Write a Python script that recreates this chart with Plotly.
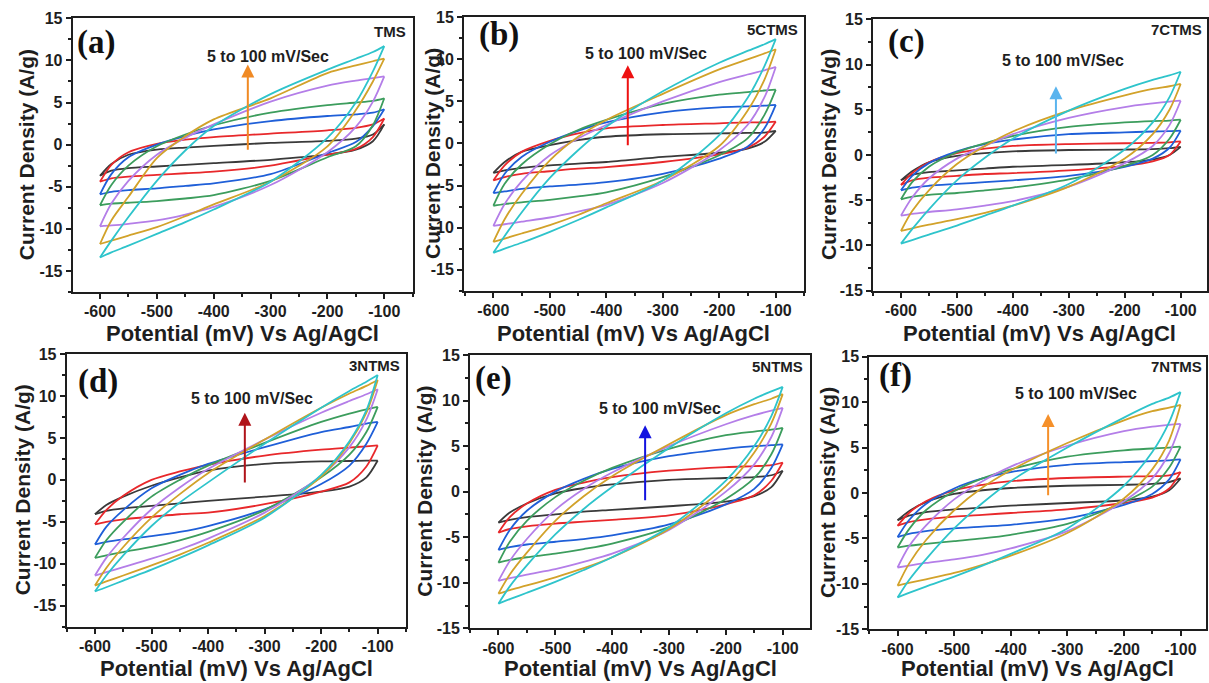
import plotly.graph_objects as go

# ---------------- data ----------------
POTENTIAL_MV = [-600, -580, -550, -500, -450, -400, -300, -200, -150, -120, -100]
SCAN_RATES = ["5 mV/s", "10 mV/s", "20 mV/s", "30 mV/s", "50 mV/s", "70 mV/s", "100 mV/s"]
CURVE_COLORS = ["#3a3a3a", "#e8282b", "#1f5fd8", "#3c9d5d", "#b47ee8", "#d2a22a", "#2ec4cb"]
SAMPLES = ["TMS", "5CTMS", "7CTMS", "3NTMS", "5NTMS", "7NTMS"]
PANEL_TAGS = ["(a)", "(b)", "(c)", "(d)", "(e)", "(f)"]
NOTE_TEXT = "5 to 100 mV/Sec"
ARROW_COLORS = ["#f08a24", "#ee1111", "#5ab4ee", "#b0141a", "#1414e0", "#f5902a"]
ARROW_X = [-340, -362, -323, -335, -342, -334]
ARROW_Y0 = [-0.8, -0.4, 0.0, -0.5, -1.1, -0.4]
ARROW_Y1 = [9.5, 9.3, 7.6, 8.0, 7.3, 8.7]
NOTE_X = [-304, -330, -310, -323, -316, -284]
NOTE_Y = [10.5, 10.7, 10.5, 9.7, 9.1, 10.9]
Y_MIN = [-17.5, -17.5, -15, -17.5, -15, -15]
X_TICKS = [-600, -500, -400, -300, -200, -100]
Y_TICKS = [-15, -10, -5, 0, 5, 10, 15]

# anodic (upper, forward) and cathodic (lower, reverse) branches, A/g, at POTENTIAL_MV
TMS_ANODIC = [
    [-3.7, -2.3, -1.2, -0.6, -0.35, -0.15, 0.2, 0.45, 0.7, 1.2, 2.4],
    [-4.4, -2.4, -0.9, 0.1, 0.6, 0.9, 1.3, 1.7, 2.0, 2.4, 3.1],
    [-5.9, -3.5, -1.5, 0.0, 1.0, 1.8, 2.8, 3.4, 3.6, 3.8, 4.2],
    [-7.2, -4.8, -2.5, -0.2, 1.2, 2.3, 3.8, 4.7, 5.0, 5.2, 5.5],
    [-9.7, -7.0, -4.3, -1.2, 0.8, 2.4, 5.1, 7.0, 7.6, 7.9, 8.1],
    [-11.8, -9.0, -6.2, -1.6, 1.0, 3.0, 5.5, 8.5, 9.4, 9.9, 10.2],
    [-13.4, -11.4, -8.6, -4.3, -0.7, 2.2, 6.0, 8.9, 10.2, 11.0, 11.7],
]
TMS_CATHODIC = [
    [-3.7, -3.1, -2.8, -2.6, -2.4, -2.2, -1.8, -1.2, -0.6, 0.4, 2.4],
    [-4.4, -4.0, -3.8, -3.6, -3.4, -3.2, -2.5, -1.2, -0.5, 0.9, 3.1],
    [-5.9, -5.6, -5.4, -5.2, -4.9, -4.6, -3.5, -1.0, 0.3, 2.2, 4.2],
    [-7.2, -7.0, -6.9, -6.7, -6.4, -6.0, -4.3, -1.5, -0.2, 2.3, 5.5],
    [-9.7, -9.6, -9.4, -9.0, -8.3, -7.4, -4.8, -0.9, 2.1, 5.1, 8.1],
    [-11.8, -11.4, -10.8, -9.8, -8.5, -7.1, -4.4, -0.2, 4.1, 7.5, 10.2],
    [-13.4, -12.8, -12.0, -10.6, -9.2, -7.7, -4.4, 0.8, 5.0, 8.7, 11.7],
]
CTMS5_ANODIC = [
    [-3.5, -2.2, -1.0, -0.2, 0.4, 0.8, 1.1, 1.2, 1.25, 1.3, 1.5],
    [-4.4, -2.6, -1.0, 0.3, 1.2, 1.8, 2.2, 2.4, 2.5, 2.5, 2.6],
    [-5.9, -3.6, -1.6, 0.2, 1.5, 2.5, 3.7, 4.3, 4.4, 4.5, 4.6],
    [-7.4, -4.8, -2.5, -0.1, 1.6, 2.8, 4.7, 5.8, 6.1, 6.3, 6.4],
    [-9.8, -7.2, -4.5, -1.4, 0.6, 2.2, 5.0, 7.3, 8.2, 8.7, 9.1],
    [-11.7, -9.0, -6.0, -2.0, 0.8, 2.8, 5.9, 8.8, 10.0, 10.7, 11.2],
    [-13.0, -11.0, -8.2, -4.1, -0.8, 2.0, 6.2, 9.6, 11.0, 11.8, 12.4],
]
CTMS5_CATHODIC = [
    [-3.5, -3.2, -2.9, -2.6, -2.4, -2.2, -1.6, -1.1, -0.6, 0.2, 1.5],
    [-4.4, -4.0, -3.6, -3.3, -3.0, -2.8, -2.2, -1.3, -0.5, 0.8, 2.6],
    [-5.9, -5.7, -5.4, -5.1, -4.9, -4.6, -3.6, -1.8, -0.4, 1.8, 4.6],
    [-7.4, -7.2, -7.0, -6.7, -6.3, -5.8, -4.0, -1.4, 0.6, 3.4, 6.4],
    [-9.8, -9.6, -9.3, -8.8, -8.1, -7.3, -4.7, -0.8, 2.2, 5.5, 9.1],
    [-11.7, -11.3, -10.7, -9.7, -8.5, -7.1, -4.4, -0.3, 3.9, 7.6, 11.2],
    [-13.0, -12.5, -11.8, -10.5, -9.1, -7.6, -4.4, 1.0, 5.4, 9.2, 12.4],
]
CTMS7_ANODIC = [
    [-2.8, -1.8, -0.8, -0.1, 0.2, 0.4, 0.55, 0.6, 0.65, 0.75, 0.9],
    [-3.3, -2.0, -0.8, 0.2, 0.7, 1.0, 1.2, 1.3, 1.35, 1.4, 1.5],
    [-3.9, -2.3, -0.9, 0.4, 1.2, 1.7, 2.3, 2.5, 2.6, 2.65, 2.7],
    [-4.9, -3.0, -1.3, 0.3, 1.3, 2.1, 3.1, 3.6, 3.75, 3.8, 3.9],
    [-6.7, -4.7, -2.6, -0.4, 1.0, 2.3, 4.1, 5.3, 5.7, 5.9, 6.0],
    [-8.4, -6.2, -3.9, -1.0, 1.0, 2.6, 4.9, 6.6, 7.3, 7.6, 7.85],
    [-9.8, -8.2, -6.0, -2.8, -0.3, 1.8, 4.9, 7.3, 8.3, 8.8, 9.2],
]
CTMS7_CATHODIC = [
    [-2.8, -2.2, -1.9, -1.7, -1.5, -1.3, -1.1, -0.8, -0.5, 0.0, 0.9],
    [-3.3, -2.8, -2.5, -2.3, -2.1, -2.0, -1.7, -1.2, -0.7, 0.0, 1.5],
    [-3.9, -3.6, -3.4, -3.2, -3.0, -2.8, -2.3, -1.3, -0.4, 0.8, 2.7],
    [-4.9, -4.6, -4.4, -4.2, -3.9, -3.6, -2.7, -1.2, 0.0, 1.8, 3.9],
    [-6.7, -6.5, -6.3, -6.0, -5.6, -5.1, -3.5, -0.9, 1.0, 3.3, 6.0],
    [-8.4, -8.1, -7.7, -7.1, -6.4, -5.6, -3.5, -0.4, 2.3, 5.0, 7.85],
    [-9.8, -9.4, -8.8, -7.8, -6.7, -5.6, -3.2, 0.6, 3.6, 6.4, 9.2],
]
NTMS3_ANODIC = [
    [-4.1, -3.0, -2.0, -0.7, 0.3, 1.1, 1.9, 2.2, 2.25, 2.3, 2.3],
    [-5.3, -3.6, -1.9, 0.0, 1.0, 1.8, 2.9, 3.6, 3.85, 4.0, 4.1],
    [-7.7, -5.6, -3.6, -1.0, 0.6, 1.9, 3.9, 5.7, 6.3, 6.7, 6.9],
    [-9.3, -7.2, -5.0, -2.0, 0.0, 1.7, 4.4, 6.9, 7.9, 8.4, 8.7],
    [-11.4, -9.3, -6.9, -3.5, -0.9, 1.3, 4.8, 8.0, 9.4, 10.2, 10.8],
    [-12.6, -10.5, -8.0, -4.5, -1.7, 0.8, 4.8, 8.6, 10.3, 11.2, 11.9],
    [-13.3, -11.4, -9.0, -5.5, -2.7, -0.3, 4.3, 8.6, 10.6, 11.7, 12.5],
]
NTMS3_CATHODIC = [
    [-4.1, -3.7, -3.4, -3.1, -2.8, -2.5, -2.0, -1.4, -0.8, 0.3, 2.3],
    [-5.3, -5.0, -4.7, -4.4, -4.1, -3.9, -2.9, -1.4, -0.3, 1.6, 4.1],
    [-7.7, -7.4, -7.1, -6.7, -6.2, -5.5, -3.5, -0.5, 1.7, 4.3, 6.9],
    [-9.3, -9.0, -8.6, -8.0, -7.2, -6.2, -3.6, 0.3, 3.0, 5.7, 8.7],
    [-11.4, -11.0, -10.4, -9.4, -8.3, -7.0, -3.9, 0.5, 3.9, 7.2, 10.8],
    [-12.6, -12.1, -11.4, -10.2, -8.9, -7.5, -4.3, 0.4, 4.4, 8.0, 11.9],
    [-13.3, -12.8, -12.0, -10.7, -9.3, -7.8, -4.5, 0.6, 4.6, 8.3, 12.5],
]
NTMS5_ANODIC = [
    [-3.4, -2.3, -1.3, -0.2, 0.4, 0.8, 1.3, 1.5, 1.6, 1.8, 2.3],
    [-4.5, -2.8, -1.3, 0.2, 1.0, 1.6, 2.3, 2.7, 2.8, 2.9, 3.2],
    [-6.4, -4.2, -2.1, 0.0, 1.4, 2.5, 3.9, 4.7, 5.0, 5.1, 5.2],
    [-7.8, -5.5, -3.2, -0.6, 1.2, 2.6, 4.7, 6.2, 6.6, 6.8, 7.0],
    [-9.8, -7.6, -5.2, -2.0, 0.3, 2.1, 5.0, 7.4, 8.4, 8.9, 9.2],
    [-11.2, -9.1, -6.7, -3.2, -0.5, 1.7, 5.2, 8.4, 9.6, 10.2, 10.7],
    [-12.3, -10.4, -8.1, -4.7, -1.9, 0.5, 4.8, 8.6, 10.2, 11.0, 11.5],
]
NTMS5_CATHODIC = [
    [-3.4, -3.1, -2.8, -2.5, -2.2, -2.0, -1.6, -1.1, -0.5, 0.5, 2.3],
    [-4.5, -4.1, -3.8, -3.5, -3.3, -3.1, -2.6, -1.4, -0.4, 1.2, 3.2],
    [-6.4, -6.1, -5.8, -5.5, -5.2, -4.8, -3.6, -1.4, 0.3, 2.6, 5.2],
    [-7.8, -7.5, -7.2, -6.8, -6.3, -5.7, -3.9, -0.8, 1.5, 4.1, 7.0],
    [-9.8, -9.5, -9.1, -8.5, -7.7, -6.8, -4.2, 0.0, 3.0, 6.0, 9.2],
    [-11.2, -10.8, -10.3, -9.4, -8.4, -7.2, -4.1, 0.6, 4.3, 7.5, 10.7],
    [-12.3, -11.8, -11.1, -9.9, -8.6, -7.2, -3.9, 1.2, 5.0, 8.3, 11.5],
]
NTMS7_ANODIC = [
    [-3.0, -2.0, -1.0, -0.1, 0.3, 0.55, 0.8, 0.9, 1.0, 1.2, 1.6],
    [-3.6, -2.2, -0.9, 0.3, 0.9, 1.3, 1.65, 1.8, 1.85, 1.95, 2.3],
    [-4.85, -3.0, -1.2, 0.5, 1.6, 2.3, 3.1, 3.4, 3.5, 3.6, 3.7],
    [-6.0, -4.0, -1.9, 0.2, 1.6, 2.6, 4.0, 4.7, 4.9, 5.0, 5.1],
    [-8.2, -5.9, -3.6, -0.7, 1.3, 2.9, 5.2, 6.8, 7.3, 7.5, 7.6],
    [-10.2, -7.8, -5.2, -1.9, 0.6, 2.5, 5.5, 8.0, 9.0, 9.4, 9.7],
    [-11.5, -9.6, -7.3, -3.9, -1.1, 1.3, 5.0, 8.3, 9.8, 10.5, 11.1],
]
NTMS7_CATHODIC = [
    [-3.0, -2.5, -2.1, -1.8, -1.6, -1.4, -1.1, -0.8, -0.4, 0.3, 1.6],
    [-3.6, -3.2, -2.9, -2.6, -2.4, -2.2, -1.8, -1.1, -0.5, 0.5, 2.3],
    [-4.85, -4.5, -4.2, -3.9, -3.7, -3.5, -2.8, -1.3, -0.1, 1.5, 3.7],
    [-6.0, -5.8, -5.6, -5.3, -5.0, -4.6, -3.4, -1.0, 0.7, 2.8, 5.1],
    [-8.2, -8.0, -7.7, -7.3, -6.8, -6.1, -4.2, -0.9, 1.6, 4.4, 7.6],
    [-10.2, -9.9, -9.5, -8.8, -7.9, -6.9, -4.4, -0.6, 2.6, 5.8, 9.7],
    [-11.5, -11.0, -10.3, -9.2, -8.0, -6.7, -3.9, 0.8, 4.5, 7.8, 11.1],
]

ANODIC = [TMS_ANODIC, CTMS5_ANODIC, CTMS7_ANODIC, NTMS3_ANODIC, NTMS5_ANODIC, NTMS7_ANODIC]
CATHODIC = [TMS_CATHODIC, CTMS5_CATHODIC, CTMS7_CATHODIC, NTMS3_CATHODIC, NTMS5_CATHODIC, NTMS7_CATHODIC]

# ---------------- layout (pixel geometry) ----------------
W, H = 1209, 683
FRAMES = [(72.7, 412.7, 18.3, 292.0), (464.0, 804.0, 17.3, 290.7), (873.0, 1206.7, 19.3, 290.7),
          (66.7, 406.0, 354.0, 626.7), (470.0, 810.0, 355.0, 628.3), (869.3, 1206.0, 356.7, 629.3)]
X_RANGES = [[-648, -50], [-652, -50], [-650, -53.5], [-650, -50], [-650, -52], [-650, -55]]
YTITLE_X = [26, 432, 829, 22, 425, 827]
XTITLE_Y = [333, 333, 333, 668, 668, 668]
TAG_POS = [(75, 42), (477, 35), (886, 41.7), (76, 381.7), (473, 378), (877, 375)]
LABEL_POS = [(408, 31.7), (800, 29.3), (1204, 30), (401.7, 365), (805, 366.7), (1204, 366.7)]

SANS = "Arial, 'Liberation Sans', sans-serif"
SERIF = "'Times New Roman', 'Liberation Serif', serif"
INK = "#1e1e1e"

fig = go.Figure()
annotations = []
layout_axes = {}

for p in range(6):
    sfx = "" if p == 0 else str(p + 1)
    xref, yref = "x" + sfx, "y" + sfx
    for c in range(len(SCAN_RATES)):
        xs = POTENTIAL_MV + [None] + POTENTIAL_MV
        ys = ANODIC[p][c] + [None] + CATHODIC[p][c]
        fig.add_trace(go.Scatter(
            x=xs, y=ys, xaxis=xref, yaxis=yref, mode="lines",
            line=dict(color=CURVE_COLORS[c], width=1.8, shape="spline", smoothing=0.8),
            name=SCAN_RATES[c], showlegend=False, connectgaps=False,
        ))
    l, r, t, b = FRAMES[p]
    axis_common = dict(showline=True, mirror=True, linewidth=2, linecolor=INK, showgrid=False,
                       zeroline=False, ticks="outside", ticklen=5, tickwidth=2, tickcolor=INK,
                       automargin=False,
                       tickfont=dict(family=SANS, size=16, color=INK, weight="bold"))
    layout_axes["xaxis" + sfx] = dict(
        axis_common, domain=[l / W, r / W], anchor=yref, range=X_RANGES[p],
        tickvals=X_TICKS, ticktext=[str(v) for v in X_TICKS], ticklabelstandoff=-1,
        minor=dict(ticks="outside", ticklen=3, tickwidth=1.5, tickcolor=INK, dtick=50, tick0=-600),
    )
    layout_axes["yaxis" + sfx] = dict(
        axis_common, domain=[1 - b / H, 1 - t / H], anchor=xref, range=[Y_MIN[p], 15],
        tickvals=Y_TICKS, ticktext=[str(v) for v in Y_TICKS],
        minor=dict(ticks="outside", ticklen=3, tickwidth=1.5, tickcolor=INK, dtick=2.5, tick0=0),
    )
    # axis titles
    annotations.append(dict(xref="paper", yref="paper", x=YTITLE_X[p] / W, y=1 - (t + b) / 2 / H,
                            text="Current Density (A/g)", textangle=-90, showarrow=False,
                            xanchor="center", yanchor="middle",
                            font=dict(family=SANS, size=21, color=INK, weight="bold")))
    annotations.append(dict(xref="paper", yref="paper", x=(l + r) / 2 / W, y=1 - XTITLE_Y[p] / H,
                            text="Potential (mV) Vs Ag/AgCl", showarrow=False,
                            xanchor="center", yanchor="middle",
                            font=dict(family=SANS, size=22, color=INK, weight="bold")))
    # panel tag
    annotations.append(dict(xref="paper", yref="paper", x=TAG_POS[p][0] / W, y=1 - TAG_POS[p][1] / H,
                            text=PANEL_TAGS[p], showarrow=False, xanchor="left", yanchor="middle",
                            font=dict(family=SERIF, size=33, color="#111", weight="bold")))
    # sample label
    annotations.append(dict(xref="paper", yref="paper", x=LABEL_POS[p][0] / W, y=1 - LABEL_POS[p][1] / H,
                            text=SAMPLES[p], showarrow=False, xanchor="right", yanchor="middle",
                            font=dict(family=SANS, size=15, color=INK, weight="bold")))
    # scan-rate note and arrow
    annotations.append(dict(xref=xref, yref=yref, x=NOTE_X[p], y=NOTE_Y[p], text=NOTE_TEXT,
                            showarrow=False, xanchor="center", yanchor="middle",
                            font=dict(family=SANS, size=16, color=INK, weight="bold")))
    annotations.append(dict(xref=xref, yref=yref, axref=xref, ayref=yref,
                            x=ARROW_X[p], y=ARROW_Y1[p], ax=ARROW_X[p], ay=ARROW_Y0[p],
                            text="", showarrow=True, arrowhead=2, arrowsize=1.3, arrowwidth=2,
                            arrowcolor=ARROW_COLORS[p]))

fig.update_layout(
    width=W, height=H, margin=dict(l=0, r=0, t=0, b=0, pad=0, autoexpand=False),
    paper_bgcolor="white", plot_bgcolor="white", showlegend=False,
    annotations=annotations, **layout_axes,
)

fig.write_html("out.html")
